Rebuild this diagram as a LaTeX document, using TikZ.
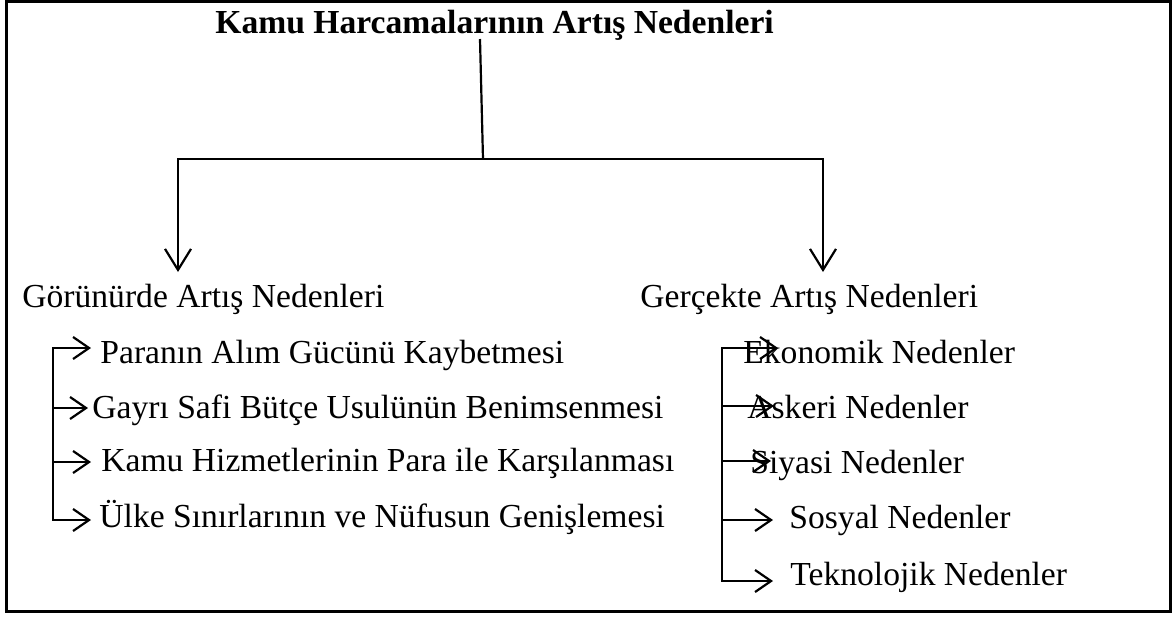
\documentclass[tikz,border=0pt]{standalone}
\usepackage{fontspec}
\setmainfont{Liberation Serif}
\usetikzlibrary{arrows.meta,positioning}
\tikzset{
  lbl/.style={font=\fontsize{16.8}{20}\selectfont, inner sep=0pt, anchor=base west},
  ttl/.style={lbl, font=\fontsize{16.8}{20}\selectfont\bfseries},
  wire/.style={line width=1.1pt},
  drop/.style={wire, -{Straight Barb[length=10.5pt,width=13pt]}},
  leaf/.style={wire, -{Straight Barb[length=8pt,width=11pt]}},
}
\begin{document}
\begin{tikzpicture}[x=0.5pt, y=-0.5pt]
\useasboundingbox (0,0) rectangle (1173,617);
\draw[line width=1.5pt] (6.5,1.5) rectangle (1170.5,611.5);
% ---------- title and the split ----------
\node[ttl] (title) at (215,33) {Kamu Harcamalarının Artış Nedenleri};
\coordinate (stem)  at (480,39);
\coordinate (split) at (483,159);
\coordinate (lend)  at (178,159);
\coordinate (rend)  at (823,159);
\coordinate (ltip)  at (178,272);
\coordinate (rtip)  at (823,272);
\draw[wire] (stem) -- (split);
\draw[drop] (split) -- (lend) -- (ltip);
\draw[drop] (split) -- (rend) -- (rtip);
\node[lbl] (seen) at (22,307)  {Görünürde Artış Nedenleri};
\node[lbl] (real) at (640,307) {Gerçekte Artış Nedenleri};
% ---------- left list ----------
\foreach \nm/\xt/\yb/\ya/\xa/\lb in {
  para/100/363/348/91/{Paranın Alım Gücünü Kaybetmesi},
  gayri/92/418/408/88/{Gayrı Safi Bütçe Usulünün Benimsenmesi},
  hizm/101/471/462/91/{Kamu Hizmetlerinin Para ile Karşılanması},
  ulke/99/527/520/91/{Ülke Sınırlarının ve Nüfusun Genişlemesi}}{
  \node[lbl] (\nm) at (\xt,\yb) {\lb};
  \coordinate (\nm-in)  at (53,\ya);
  \coordinate (\nm-tip) at (\xa,\ya);
  \draw[leaf] (\nm-in) -- (\nm-tip);
}
\draw[wire, line cap=rect] (para-in) -- (ulke-in);
% ---------- right list ----------
\foreach \nm/\xt/\yb/\ya/\xa/\lb in {
  ekon/743/363/348/778/{Ekonomik Nedenler},
  asker/747/418/406/774/{Askeri Nedenler},
  siyasi/750/473/461/771/{Siyasi Nedenler},
  sosyal/789/528/520/773/{Sosyal Nedenler},
  tekno/790/585/581/773/{Teknolojik Nedenler}}{
  \node[lbl] (\nm) at (\xt,\yb) {\lb};
  \coordinate (\nm-in)  at (722,\ya);
  \coordinate (\nm-tip) at (\xa,\ya);
  \draw[leaf] (\nm-in) -- (\nm-tip);
}
\draw[wire, line cap=rect] (ekon-in) -- (tekno-in);
\end{tikzpicture}
\end{document}
